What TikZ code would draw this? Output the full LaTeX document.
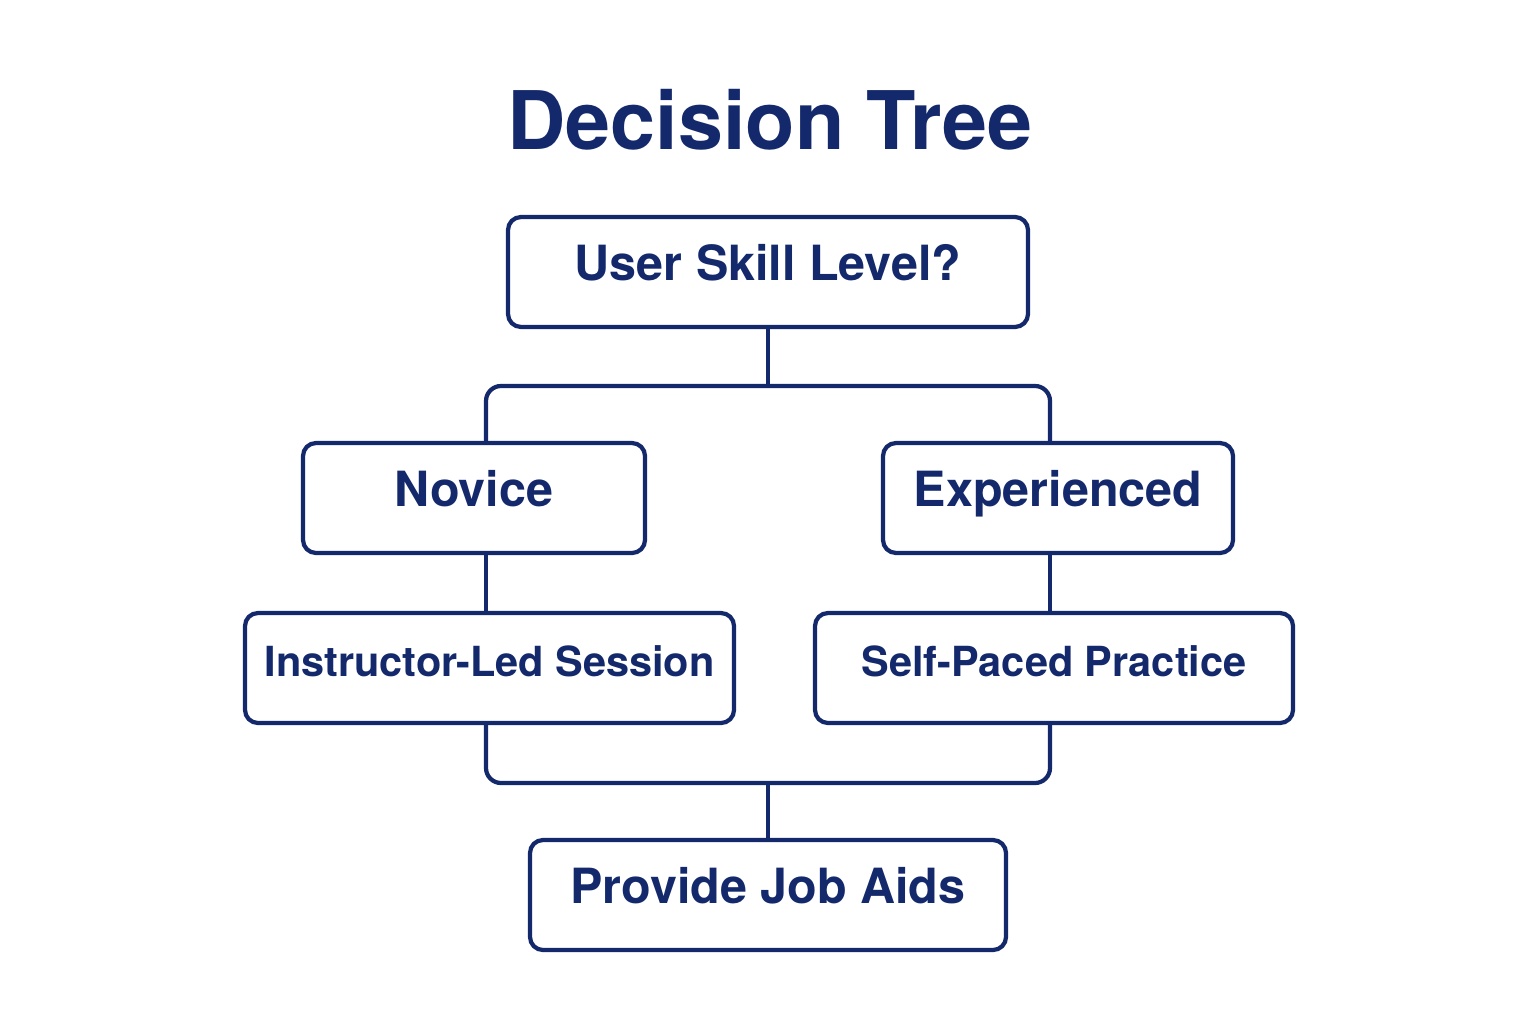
\documentclass[tikz,border=0pt]{standalone}
\usepackage{fontspec}
\setmainfont{TeX Gyre Heros}
\definecolor{navy}{HTML}{14296B}
\tikzset{
  choice/.style={draw=navy, line width=1.2pt, rounded corners=0.13cm, minimum height=1.1cm,
    text=navy, font=\fontsize{13.8}{16}\selectfont\bfseries, inner sep=0pt,
    text height=0.72em, text depth=0.22em},
  link/.style={draw=navy, line width=1.2pt, rounded corners=0.15cm}
}

\begin{document}
\begin{tikzpicture}
  \useasboundingbox (0,0) rectangle (15.36,10.24);

  \node[text=navy, font=\fontsize{23}{26}\selectfont\bfseries] (title) at (7.7,9.04) {Decision Tree};

  \node[choice, minimum width=5.2cm] (skill) at (7.68,7.52) {User Skill Level?};

  \node[choice, minimum width=3.42cm] (novice) at (4.74,5.26) {Novice};
  \node[choice, minimum width=3.5cm] (expd) at (10.58,5.26) {Experienced};

  \node[choice, minimum width=4.89cm, font=\fontsize{11.8}{14}\selectfont\bfseries] (instr) at (4.895,3.56) {Instructor-Led Session};
  \node[choice, minimum width=4.78cm, font=\fontsize{11.8}{14}\selectfont\bfseries] (selfp) at (10.54,3.56) {Self-Paced Practice};

  \node[choice, minimum width=4.76cm] (aids) at (7.68,1.29) {Provide Job Aids};

  \coordinate (split) at (7.68,6.38);
  \coordinate (join) at (7.68,2.41);
  \coordinate (lx) at (4.86,0);
  \coordinate (rx) at (10.50,0);

  % upper branches
  \draw[link] (skill) -- (split);
  \draw[link] (novice.north -| lx) |- (split) -| (expd.north -| rx);

  \draw[link] (novice.south -| lx) -- (instr.north -| lx);
  \draw[link] (expd.south -| rx) -- (selfp.north -| rx);

  % merge
  \draw[link] (instr.south -| lx) |- (join) -| (selfp.south -| rx);
  \draw[link] (join) -- (aids);
\end{tikzpicture}
\end{document}
